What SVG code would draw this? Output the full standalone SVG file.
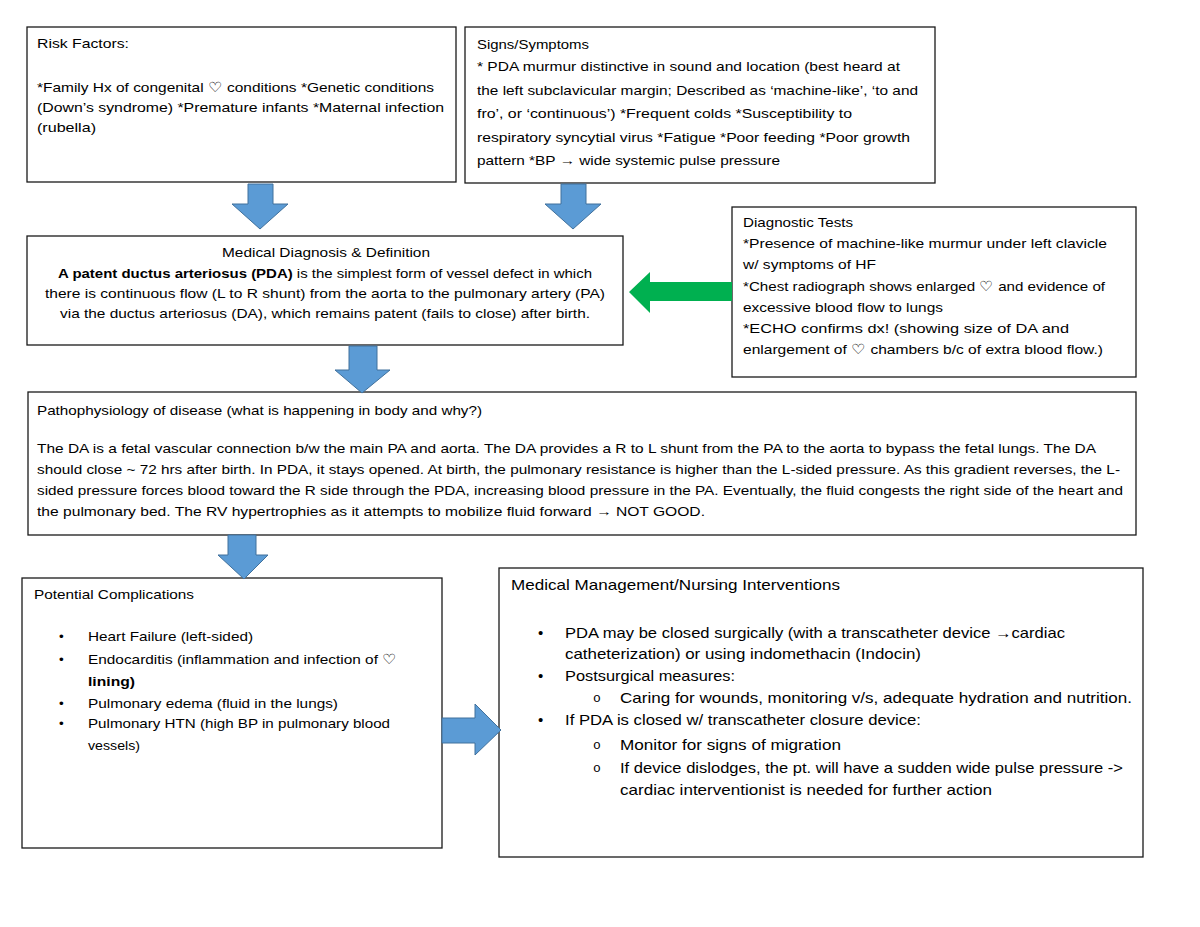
<svg xmlns="http://www.w3.org/2000/svg" width="1200" height="927" viewBox="0 0 1200 927">
<style>
  .box { fill: #ffffff; stroke: #1a1a1a; stroke-width: 1.3; }
  .t { font-family: "Liberation Sans", Arial, sans-serif; font-size: 13.5px; fill: #000000; }
  .tm { font-family: "Liberation Sans", Arial, sans-serif; font-size: 15px; fill: #000000; }
  .b { font-weight: bold; }
  .o { font-family: "Liberation Mono", monospace; font-size: 13px; }
  .blue { fill: #5B9BD5; stroke: #41719C; stroke-width: 1; }
  .green { fill: #00B050; stroke: none; }
</style>
<rect width="1200" height="927" fill="#ffffff"/>

<g id="risk-factors">
  <rect class="box" x="27" y="27" width="429" height="155"/>
  <text class="t" x="37" y="48" textLength="92" lengthAdjust="spacingAndGlyphs">Risk Factors:</text>
  <text class="t" x="37" y="92" textLength="397" lengthAdjust="spacingAndGlyphs">*Family Hx of congenital ♡ conditions *Genetic conditions</text>
  <text class="t" x="37" y="112" textLength="407" lengthAdjust="spacingAndGlyphs">(Down’s syndrome) *Premature infants *Maternal infection</text>
  <text class="t" x="37" y="132" textLength="59" lengthAdjust="spacingAndGlyphs">(rubella)</text>
</g>

<g id="signs-symptoms">
  <rect class="box" x="465" y="27" width="470" height="156"/>
  <text class="t" x="477" y="49" textLength="112" lengthAdjust="spacingAndGlyphs">Signs/Symptoms</text>
  <text class="t" x="477" y="71" textLength="423" lengthAdjust="spacingAndGlyphs">* PDA murmur distinctive in sound and location (best heard at</text>
  <text class="t" x="477" y="95" textLength="441" lengthAdjust="spacingAndGlyphs">the left subclavicular margin; Described as ‘machine-like’, ‘to and</text>
  <text class="t" x="477" y="118" textLength="375" lengthAdjust="spacingAndGlyphs">fro’, or ‘continuous’) *Frequent colds *Susceptibility to</text>
  <text class="t" x="477" y="142" textLength="433" lengthAdjust="spacingAndGlyphs">respiratory syncytial virus *Fatigue *Poor feeding *Poor growth</text>
  <text class="t" x="477" y="165" textLength="303" lengthAdjust="spacingAndGlyphs">pattern *BP → wide systemic pulse pressure</text>
</g>

<g id="medical-diagnosis">
  <rect class="box" x="27" y="236" width="596" height="109"/>
  <text class="t" x="222" y="257" textLength="208" lengthAdjust="spacingAndGlyphs">Medical Diagnosis &amp; Definition</text>
  <text class="t" x="58" y="278" textLength="534" lengthAdjust="spacingAndGlyphs"><tspan class="b">A patent ductus arteriosus (PDA)</tspan> is the simplest form of vessel defect in which</text>
  <text class="t" x="45" y="298" textLength="560" lengthAdjust="spacingAndGlyphs">there is continuous flow (L to R shunt) from the aorta to the pulmonary artery (PA)</text>
  <text class="t" x="60" y="318" textLength="530" lengthAdjust="spacingAndGlyphs">via the ductus arteriosus (DA), which remains patent (fails to close) after birth.</text>
</g>

<g id="diagnostic-tests">
  <rect class="box" x="732" y="207" width="404" height="170"/>
  <text class="t" x="743" y="227" textLength="110" lengthAdjust="spacingAndGlyphs">Diagnostic Tests</text>
  <text class="t" x="743" y="248" textLength="364" lengthAdjust="spacingAndGlyphs">*Presence of machine-like murmur under left clavicle</text>
  <text class="t" x="743" y="269" textLength="133" lengthAdjust="spacingAndGlyphs">w/ symptoms of HF</text>
  <text class="t" x="743" y="291" textLength="362" lengthAdjust="spacingAndGlyphs">*Chest radiograph shows enlarged ♡ and evidence of</text>
  <text class="t" x="743" y="312" textLength="200" lengthAdjust="spacingAndGlyphs">excessive blood flow to lungs</text>
  <text class="t" x="743" y="333" textLength="326" lengthAdjust="spacingAndGlyphs">*ECHO confirms dx! (showing size of DA and</text>
  <text class="t" x="743" y="354" textLength="360" lengthAdjust="spacingAndGlyphs">enlargement of ♡ chambers b/c of extra blood flow.)</text>
</g>

<g id="pathophysiology">
  <rect class="box" x="28" y="392" width="1108" height="143"/>
  <text class="t" x="37" y="415" textLength="445" lengthAdjust="spacingAndGlyphs">Pathophysiology of disease (what is happening in body and why?)</text>
  <text class="t" x="37" y="453" textLength="1059" lengthAdjust="spacingAndGlyphs">The DA is a fetal vascular connection b/w the main PA and aorta. The DA provides a R to L shunt from the PA to the aorta to bypass the fetal lungs. The DA</text>
  <text class="t" x="37" y="474" textLength="1083" lengthAdjust="spacingAndGlyphs">should close ~ 72 hrs after birth. In PDA, it stays opened. At birth, the pulmonary resistance is higher than the L-sided pressure. As this gradient reverses, the L-</text>
  <text class="t" x="37" y="495" textLength="1086" lengthAdjust="spacingAndGlyphs">sided pressure forces blood toward the R side through the PDA, increasing blood pressure in the PA. Eventually, the fluid congests the right side of the heart and</text>
  <text class="t" x="37" y="516" textLength="668" lengthAdjust="spacingAndGlyphs">the pulmonary bed. The RV hypertrophies as it attempts to mobilize fluid forward → NOT GOOD.</text>
</g>

<g id="potential-complications">
  <rect class="box" x="22" y="578" width="420" height="270"/>
  <text class="t" x="34" y="599" textLength="160" lengthAdjust="spacingAndGlyphs">Potential Complications</text>
  <text class="t" x="59" y="641">•</text>
  <text class="t" x="88" y="641" textLength="165" lengthAdjust="spacingAndGlyphs">Heart Failure (left-sided)</text>
  <text class="t" x="59" y="664">•</text>
  <text class="t" x="88" y="664" textLength="309" lengthAdjust="spacingAndGlyphs">Endocarditis (inflammation and infection of ♡</text>
  <text class="t b" x="88" y="686" textLength="47" lengthAdjust="spacingAndGlyphs">lining)</text>
  <text class="t" x="59" y="708">•</text>
  <text class="t" x="88" y="708" textLength="250" lengthAdjust="spacingAndGlyphs">Pulmonary edema (fluid in the lungs)</text>
  <text class="t" x="59" y="728">•</text>
  <text class="t" x="88" y="728" textLength="302" lengthAdjust="spacingAndGlyphs">Pulmonary HTN (high BP in pulmonary blood</text>
  <text class="t" x="88" y="750" textLength="52" lengthAdjust="spacingAndGlyphs">vessels)</text>
</g>

<g id="medical-management">
  <rect class="box" x="499" y="568" width="644" height="289"/>
  <text class="tm" x="511" y="590" textLength="329" lengthAdjust="spacingAndGlyphs">Medical Management/Nursing Interventions</text>
  <text class="tm" x="538" y="638">•</text>
  <text class="tm" x="565" y="638" textLength="500" lengthAdjust="spacingAndGlyphs">PDA may be closed surgically (with a transcatheter device →cardiac</text>
  <text class="tm" x="565" y="659" textLength="356" lengthAdjust="spacingAndGlyphs">catheterization) or using indomethacin (Indocin)</text>
  <text class="tm" x="538" y="681">•</text>
  <text class="tm" x="565" y="681" textLength="170" lengthAdjust="spacingAndGlyphs">Postsurgical measures:</text>
  <text class="tm o" x="593" y="702">o</text>
  <text class="tm" x="620" y="703" textLength="512" lengthAdjust="spacingAndGlyphs">Caring for wounds, monitoring v/s, adequate hydration and nutrition.</text>
  <text class="tm" x="538" y="725">•</text>
  <text class="tm" x="565" y="725" textLength="356" lengthAdjust="spacingAndGlyphs">If PDA is closed w/ transcatheter closure device:</text>
  <text class="tm o" x="593" y="749">o</text>
  <text class="tm" x="620" y="750" textLength="221" lengthAdjust="spacingAndGlyphs">Monitor for signs of migration</text>
  <text class="tm o" x="593" y="772">o</text>
  <text class="tm" x="620" y="773" textLength="503" lengthAdjust="spacingAndGlyphs">If device dislodges, the pt. will have a sudden wide pulse pressure -&gt;</text>
  <text class="tm" x="620" y="795" textLength="372" lengthAdjust="spacingAndGlyphs">cardiac interventionist is needed for further action</text>
</g>

<g id="connectors">
  <polygon class="blue" points="248,184 273,184 273,204 288,204 260,229 232,204 248,204"/>
  <polygon class="blue" points="561,184 586,184 586,204 601,204 573,229 545,204 561,204"/>
  <polygon class="blue" points="349,346 377,346 377,370 390,370 362,393 335,370 349,370"/>
  <polygon class="blue" points="228,535 256,535 256,555 268,555 244,579 218,555 228,555"/>
  <polygon class="blue" points="442,718 475,718 475,704 501,730 475,755 475,743 442,743"/>
  <polygon class="green" points="732,282 650,282 650,272 629,292 650,313 650,301 732,301"/>
</g>
</svg>
